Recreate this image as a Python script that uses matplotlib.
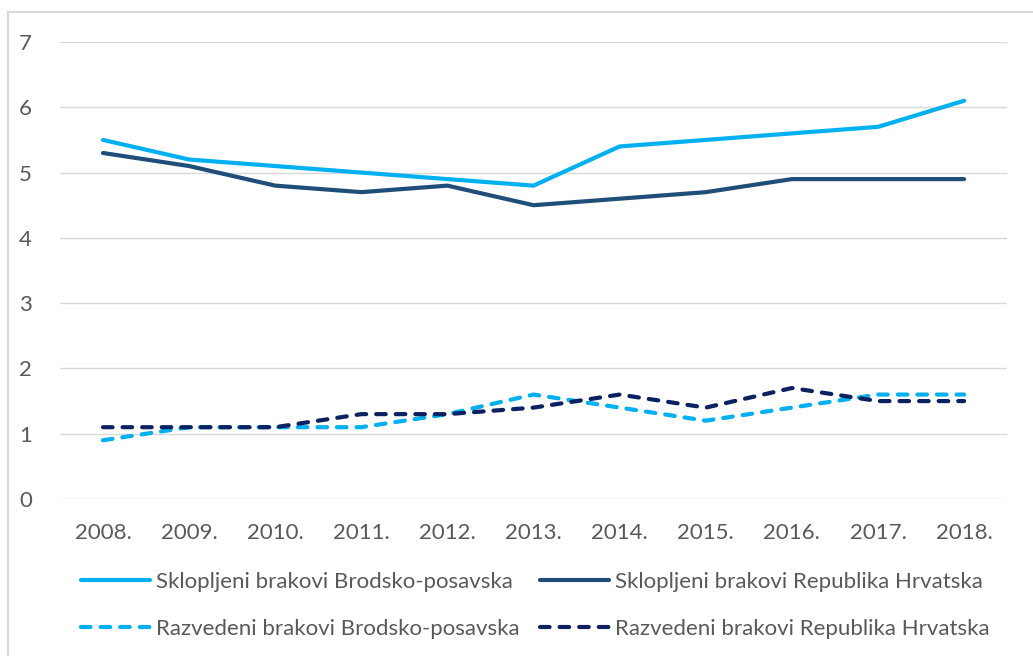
import matplotlib
matplotlib.use("Agg")
import matplotlib.pyplot as plt
from matplotlib.patches import Rectangle

# podaci
godine = ["2008.", "2009.", "2010.", "2011.", "2012.", "2013.",
          "2014.", "2015.", "2016.", "2017.", "2018."]
sklopljeni_bp = [5.5, 5.2, 5.1, 5.0, 4.9, 4.8, 5.4, 5.5, 5.6, 5.7, 6.1]
sklopljeni_rh = [5.3, 5.1, 4.8, 4.7, 4.8, 4.5, 4.6, 4.7, 4.9, 4.9, 4.9]
razvedeni_bp = [0.9, 1.1, 1.1, 1.1, 1.3, 1.6, 1.4, 1.2, 1.4, 1.6, 1.6]
razvedeni_rh = [1.1, 1.1, 1.1, 1.3, 1.3, 1.4, 1.6, 1.4, 1.7, 1.5, 1.5]

svijetla = "#00B0F0"
tamna = "#1F4E79"
tamna2 = "#0B2161"

plt.rcParams['font.family'] = ['Lato', 'DejaVu Sans']

fig = plt.figure(figsize=(10.33, 6.56), dpi=100)
ax = fig.add_axes([0.058, 0.2393, 0.917, 0.6967])

# okvir grafikona
fig.patches.append(Rectangle((8 / 1033, -0.1), 1.2, 1.1 - 12 / 656,
                             transform=fig.transFigure, fill=False,
                             edgecolor="#D9D9D9", lw=1.5, clip_on=False))

x = list(range(len(godine)))
l1, = ax.plot(x, sklopljeni_bp, color=svijetla, lw=3, solid_capstyle="round",
              label="Sklopljeni brakovi Brodsko-posavska")
l2, = ax.plot(x, sklopljeni_rh, color=tamna, lw=3, solid_capstyle="round",
              label="Sklopljeni brakovi Republika Hrvatska")
l3, = ax.plot(x, razvedeni_bp, color=svijetla, lw=3, dash_capstyle="round",
              label="Razvedeni brakovi Brodsko-posavska")
l4, = ax.plot(x, razvedeni_rh, color=tamna2, lw=3, dash_capstyle="round",
              label="Razvedeni brakovi Republika Hrvatska")
l3.set_dashes((2.3, 2.4))
l4.set_dashes((2.3, 2.4))

ax.set_xlim(-0.5, 10.5)
ax.set_ylim(0, 7)
ax.set_yticks(range(0, 8))
ax.set_xticks(x)
ax.set_xticklabels(godine)
ax.grid(axis="y", color="#D9D9D9", lw=1)
ax.set_axisbelow(True)
for s in ax.spines.values():
    s.set_visible(False)
ax.tick_params(axis="both", length=0, labelsize=16, labelcolor="#595959")
ax.tick_params(axis="y", pad=20)
ax.tick_params(axis="x", pad=17)

ax.legend(handles=[l1, l3, l2, l4], loc="upper left",
          bbox_to_anchor=(0.013, -0.14), ncol=2,
          frameon=False, fontsize=16, labelcolor="#595959",
          handlelength=3.1, handletextpad=0.27, columnspacing=0.9,
          labelspacing=1.2, borderaxespad=0)

fig.savefig("out.png", dpi=100)
